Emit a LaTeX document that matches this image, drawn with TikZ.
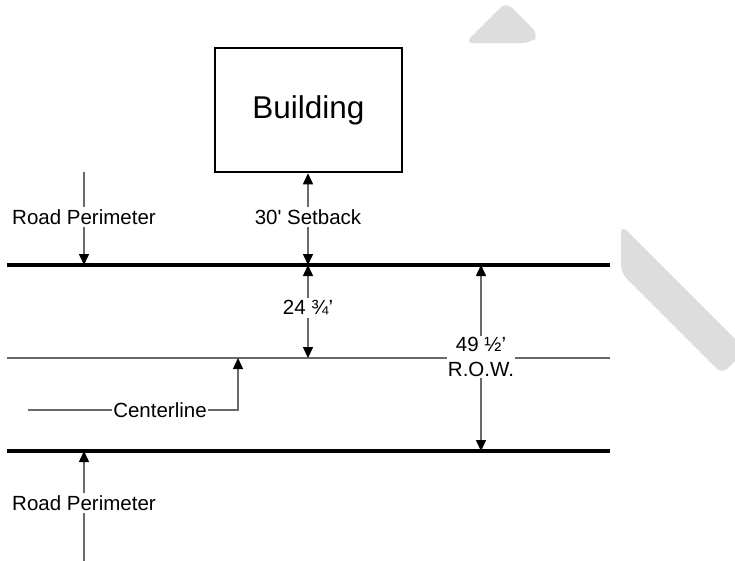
\documentclass[tikz,border=0pt]{standalone}
\usepackage{fontspec}
\setmainfont{Liberation Sans}[Ligatures=TeXOff]
\usetikzlibrary{arrows.meta}

\definecolor{linegray}{HTML}{6A6A6A}
\definecolor{markgray}{HTML}{DDDDDD}

\tikzset{
  lbl/.style={fill=white, inner sep=2pt, font=\fontsize{20.5}{25}\selectfont},
  road/.style={line width=3.5pt, black},
  thinroad/.style={line width=1.5pt, linegray},
  dimline/.style={line width=1.5pt, linegray},
  dimarrow/.style={dimline, -{Triangle[width=10pt, length=11pt, black]}},
  bldgbox/.style={draw, line width=2.5pt, minimum width=187pt, minimum height=124pt,
    font=\fontsize{31.5}{38}\selectfont}
}

\begin{document}
\begin{tikzpicture}[x=1pt, y=-1pt]

\useasboundingbox (0,0) rectangle (735,560);

% Gray marks at the right
\begin{scope}
\clip (0,0) rectangle (735,560);
\fill[markgray, rounded corners=8pt] (465,43) -- (506,2) -- (539,35) -- (531,43) -- cycle;
\fill[markgray, rounded corners=8pt] (621,225) -- (746,350) -- (722,374) -- (621,273) -- cycle;
\end{scope}

% Building
\node[bldgbox] (bldg) at (308.5,110) {\raisebox{1pt}{Building}};

% Road lines
\coordinate (topL) at (7,265);
\coordinate (topR) at (610,265);
\coordinate (midL) at (7,358);
\coordinate (midR) at (610,358);
\coordinate (botL) at (7,451);
\coordinate (botR) at (610,451);

\draw[thinroad] (midL) -- (midR);

% Labels
\node[lbl] (rpTop) at (84,217) {Road Perimeter};
\node[lbl] (setback) at (308,217) {30' Setback};
\node[lbl] (half) at (308,308) {24 ¾’};
\node[lbl, align=center, inner sep=1pt] (row) at (481,357) {49 ½’\\R.O.W.};
\node[lbl, inner sep=1pt] (cl) at (160,410) {Centerline};
\node[lbl] (rpBot) at (84,503) {Road Perimeter};

% Free ends
\coordinate (rpTopS) at (84,172);
\coordinate (rpBotS) at (84,562);
\coordinate (clS) at (28,410);
\coordinate (clBend) at (238,410);

% Dimension arrows
\draw[dimline] (rpTopS) -- (rpTop);
\draw[dimarrow] (rpTop) -- (rpTop |- topL);

\draw[dimarrow] (setback) -- (setback |- bldg.south);
\draw[dimarrow] (setback) -- (setback |- topL);

\draw[dimarrow] (half) -- (half |- topL);
\draw[dimarrow] (half) -- (half |- midL);

\draw[dimarrow] (row) -- (row |- topL);
\draw[dimarrow] (row) -- (row |- botL);

\draw[dimline] (clS) -- (cl);
\draw[dimarrow] (cl) -- (clBend) -- (clBend |- midL);

\draw[dimline] (rpBotS) -- (rpBot);
\draw[dimarrow] (rpBot) -- (rpBot |- botL);

% Road perimeter lines
\draw[road] (topL) -- (topR);
\draw[road] (botL) -- (botR);

\end{tikzpicture}
\end{document}
